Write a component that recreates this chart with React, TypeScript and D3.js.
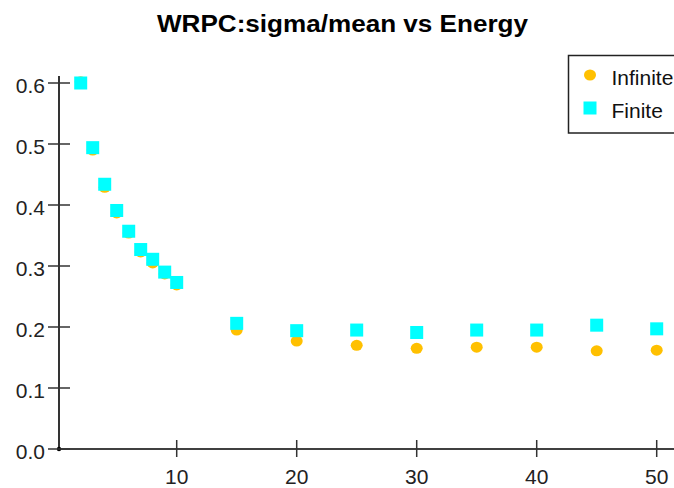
import React from "react";
import * as d3 from "d3";

const energies = [2, 3, 4, 5, 6, 7, 8, 9, 10, 15, 20, 25, 30, 35, 40, 45, 50];
const infinite = [0.602, 0.49, 0.429, 0.387, 0.354, 0.323, 0.305, 0.287, 0.269, 0.195, 0.177, 0.17, 0.165, 0.167, 0.167, 0.161, 0.162];
const finite = [0.6, 0.494, 0.434, 0.391, 0.357, 0.327, 0.311, 0.29, 0.273, 0.206, 0.194, 0.195, 0.191, 0.195, 0.195, 0.203, 0.197];
const xTicks = [10, 20, 30, 40, 50];
const yTicks = [0, 0.1, 0.2, 0.3, 0.4, 0.5, 0.6];
const title = "WRPC:sigma/mean vs Energy";
const seriesNames = ["Infinite", "Finite"];

const W = 674;
const H = 488;

export default function App() {
  const x = d3.scaleLinear().domain([0, 50]).range([56.7, 656.7]);
  const y = d3.scaleLinear().domain([0, 0.6]).range([449, 83]);
  const axisX = 59;
  const font = "Liberation Sans, Arial, sans-serif";
  return (
    <svg width={W} height={H} style={{ position: "absolute", left: 0, top: 0, background: "#fff" }}>
      <rect width={W} height={H} fill="#fff" />
      <text x={157} y={31.5} textLength={371} lengthAdjust="spacingAndGlyphs" fontFamily={font} fontWeight="bold" fontSize={23} fill="#000">
        {title}
      </text>
      {/* axes */}
      <line x1={axisX} x2={axisX} y1={76} y2={y(0)} stroke="#000" strokeWidth={1.6} />
      <line x1={axisX} x2={W} y1={y(0)} y2={y(0)} stroke="#000" strokeWidth={1.6} />
      <circle cx={axisX} cy={y(0)} r={2.2} fill="#000" />
      {yTicks.map((t) => (
        <g key={t}>
          <line x1={48} x2={70} y1={y(t)} y2={y(t)} stroke="#333" strokeWidth={1.5} />
          <text x={45} y={y(t) + 10} textAnchor="end" fontFamily={font} fontSize={21} fill="#222">
            {d3.format(".1f")(t)}
          </text>
        </g>
      ))}
      {xTicks.map((t) => (
        <g key={t}>
          <line x1={x(t)} x2={x(t)} y1={440} y2={457} stroke="#333" strokeWidth={1.5} />
          <text x={x(t)} y={484} textAnchor="middle" fontFamily={font} fontSize={21} fill="#222">
            {t}
          </text>
        </g>
      ))}
      {/* Infinite: circles */}
      {energies.map((e, i) => (
        <ellipse key={"i" + e} cx={x(e)} cy={y(infinite[i])} rx={6} ry={5.5} fill="#FFC000" />
      ))}
      {/* Finite: squares */}
      {energies.map((e, i) => (
        <rect key={"f" + e} x={x(e) - 6.5} y={y(finite[i]) - 6.5} width={13} height={13} fill="#00FFFF" />
      ))}
      {/* legend */}
      <rect x={568.5} y={55.5} width={120} height={77.5} fill="#fff" stroke="#222" strokeWidth={1.5} />
      <ellipse cx={590} cy={75} rx={6} ry={5.5} fill="#FFC000" />
      <text x={611.5} y={85} fontFamily={font} fontSize={21} fill="#111">
        {seriesNames[0]}
      </text>
      <rect x={583.5} y={101.5} width={13} height={13} fill="#00FFFF" />
      <text x={611.5} y={118} fontFamily={font} fontSize={21} fill="#111">
        {seriesNames[1]}
      </text>
    </svg>
  );
}
